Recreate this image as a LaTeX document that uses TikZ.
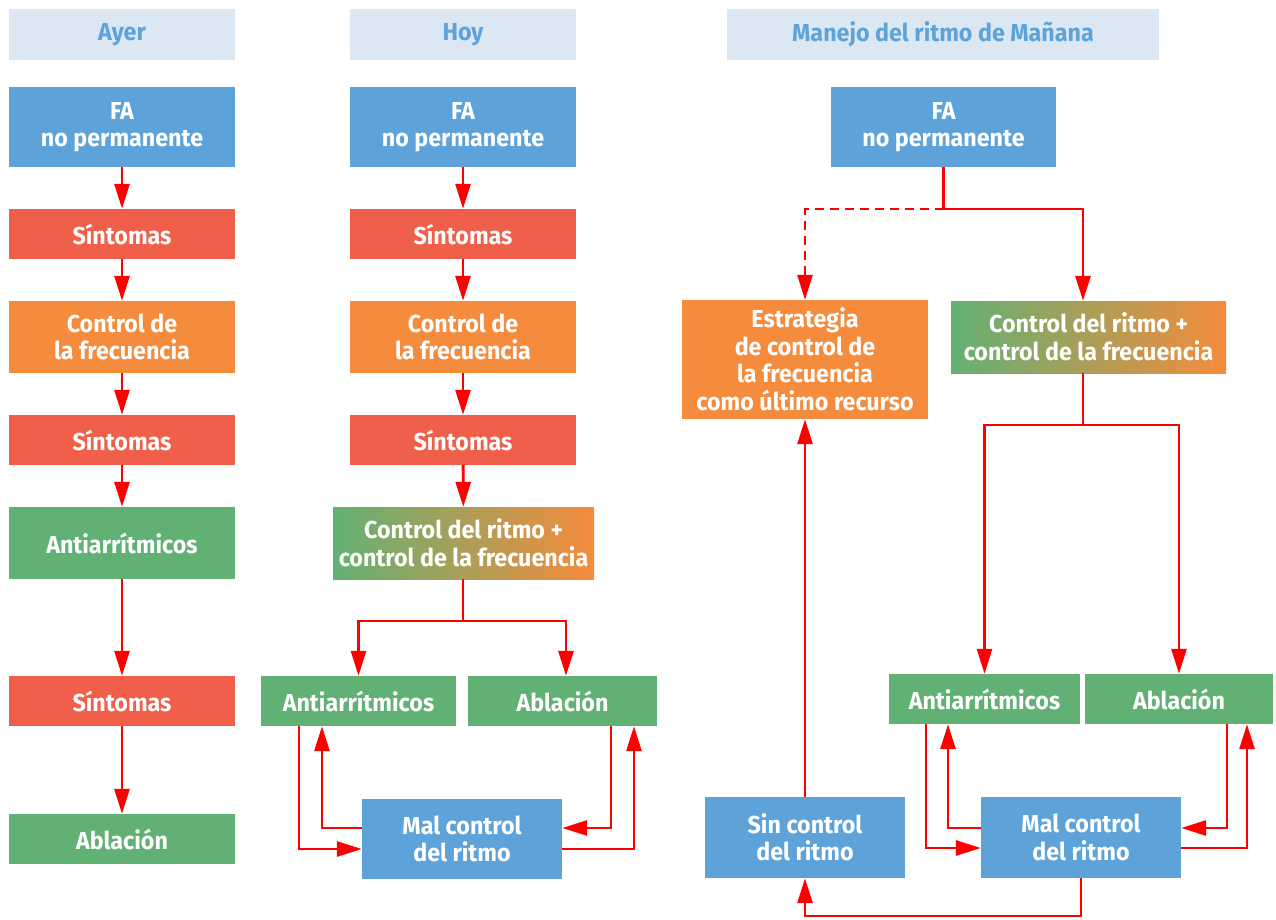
\documentclass[tikz,border=0pt]{standalone}
\usepackage{fontspec}
\setmainfont{Fira Sans}[FakeStretch=0.95]
\usetikzlibrary{arrows.meta}
\definecolor{cblue}{HTML}{5DA3D9}
\definecolor{csalmon}{HTML}{F05F4A}
\definecolor{corange}{HTML}{F58B3C}
\definecolor{cgreen}{HTML}{62B174}
\definecolor{chead}{HTML}{DCE7F4}
\definecolor{cred}{HTML}{FF0000}
\tikzset{
  box/.style={draw=none, text=white, align=center, inner sep=0pt,
    font=\fontsize{24.5}{27.5}\selectfont\bfseries},
  headbox/.style={box, fill=chead, text=cblue, minimum height=51pt},
  bluebox/.style={box, fill=cblue},
  salbox/.style={box, fill=csalmon},
  orbox/.style={box, fill=corange},
  grbox/.style={box, fill=cgreen},
  gradbox/.style={box, left color=cgreen, right color=corange},
  arr/.style={draw=cred, line width=2.8pt, -{Triangle[length=25pt,width=15pt]}},
  lin/.style={draw=cred, line width=2.8pt},
  dashlin/.style={draw=cred, line width=2.8pt, dash pattern=on 9pt off 6pt}
}
\begin{document}
\begin{tikzpicture}[x=1pt,y=-1pt]
\useasboundingbox (0,0) rectangle (1276,919);
% headers
\node[headbox, minimum width=226pt] (hA) at (122,34.5) {Ayer};
\node[headbox, minimum width=226pt] (hH) at (463,34.5) {Hoy};
\node[headbox, minimum width=432pt] (hM) at (943,34.5) {Manejo del ritmo de Mañana};
% Ayer
\node[bluebox, minimum width=226pt, minimum height=80pt] (a1) at (122,127) {FA\\no permanente};
\node[salbox, minimum width=226pt, minimum height=50pt] (a2) at (122,234) {Síntomas};
\node[orbox, minimum width=226pt, minimum height=72pt] (a3) at (122,337) {Control de\\la frecuencia};
\node[salbox, minimum width=226pt, minimum height=50pt] (a4) at (122,440) {Síntomas};
\node[grbox, minimum width=226pt, minimum height=72pt] (a5) at (122,543) {Antiarrítmicos};
\node[salbox, minimum width=226pt, minimum height=50pt] (a6) at (122,701) {Síntomas};
\node[grbox, minimum width=226pt, minimum height=50pt] (a7) at (122,839) {Ablación};
\draw[arr] (a1) -- (a2);
\draw[arr] (a2) -- (a3);
\draw[arr] (a3) -- (a4);
\draw[arr] (a4) -- (a5);
\draw[arr] (a5) -- (a6);
\draw[arr] (a6) -- (a7);
% Hoy
\node[bluebox, minimum width=226pt, minimum height=80pt] (h1) at (463,127) {FA\\no permanente};
\node[salbox, minimum width=226pt, minimum height=50pt] (h2) at (463,234) {Síntomas};
\node[orbox, minimum width=226pt, minimum height=72pt] (h3) at (463,337) {Control de\\la frecuencia};
\node[salbox, minimum width=226pt, minimum height=50pt] (h4) at (463,440) {Síntomas};
\node[gradbox, minimum width=261pt, minimum height=72pt] (h5) at (463.5,543) {Control del ritmo +\\control de la frecuencia};
\node[grbox, minimum width=195pt, minimum height=50pt] (h6) at (358.5,701) {Antiarrítmicos};
\node[grbox, minimum width=189pt, minimum height=50pt] (h7) at (562.5,701) {Ablación};
\node[bluebox, minimum width=200pt, minimum height=80pt] (h8) at (462,839) {Mal control\\del ritmo};
\draw[arr] (h1) -- (h2);
\draw[arr] (h2) -- (h3);
\draw[arr] (h3) -- (h4);
\draw[arr] (h4) -- (h5);
\coordinate (hj) at (463,621);
\coordinate (hx) at (566,621);
\draw[lin] (h5.south -| hj) -- (hj);
\draw[arr] (hj) -| (h6.north);
\draw[arr] (hj) -| (h7.north -| hx);
\coordinate (K1) at (299,849);
\coordinate (K2) at (322,828);
\coordinate (K3) at (611,828);
\coordinate (K4) at (634,849);
\draw[arr] (h6.south -| K1) |- (h8.west |- K1);
\draw[arr] (h8.west |- K2) -| (h6.south -| K2);
\draw[arr] (h7.south -| K3) |- (h8.east |- K3);
\draw[arr] (h8.east |- K4) -| (h7.south -| K4);
% Manana
\node[bluebox, minimum width=225pt, minimum height=80pt] (m1) at (943.5,127) {FA\\no permanente};
\node[orbox, minimum width=246pt, minimum height=119pt] (m2) at (805,359.5) {Estrategia\\de control de\\la frecuencia\\como último recurso};
\node[gradbox, minimum width=275pt, minimum height=72pt] (m3) at (1088.5,337) {Control del ritmo +\\control de la frecuencia};
\node[grbox, minimum width=191pt, minimum height=50pt] (m4) at (984.5,699) {Antiarrítmicos};
\node[grbox, minimum width=188pt, minimum height=50pt] (m5) at (1179,699) {Ablación};
\node[bluebox, minimum width=200pt, minimum height=81pt] (m6) at (805,837.5) {Sin control\\del ritmo};
\node[bluebox, minimum width=200pt, minimum height=81pt] (m7) at (1081,837.5) {Mal control\\del ritmo};
\coordinate (mj) at (943.5,209);
\coordinate (mx) at (1083,209);
\draw[lin] (m1.south) -- (mj);
\draw[dashlin, -{Triangle[length=25pt,width=15pt]}] (mj) -| (m2.north);
\draw[arr] (mj) -| (m3.north -| mx);
\coordinate (mk) at (1083,425);
\draw[lin] (m3.south -| mk) -- (mk);
\draw[arr] (mk) -| (m4.north);
\draw[arr] (mk) -| (m5.north);
\draw[arr] (m6.north) -- (m6.north |- m2.south);
\coordinate (mb) at (1081,916);
\draw[arr] (m7.south) -- (mb) -| (m6.south);
\coordinate (L1) at (926,848);
\coordinate (L2) at (948,828);
\coordinate (L3) at (1227,828);
\coordinate (L4) at (1247,848);
\draw[arr] (m4.south -| L1) |- (m7.west |- L1);
\draw[arr] (m7.west |- L2) -| (m4.south -| L2);
\draw[arr] (m5.south -| L3) |- (m7.east |- L3);
\draw[arr] (m7.east |- L4) -| (m5.south -| L4);
\end{tikzpicture}
\end{document}
